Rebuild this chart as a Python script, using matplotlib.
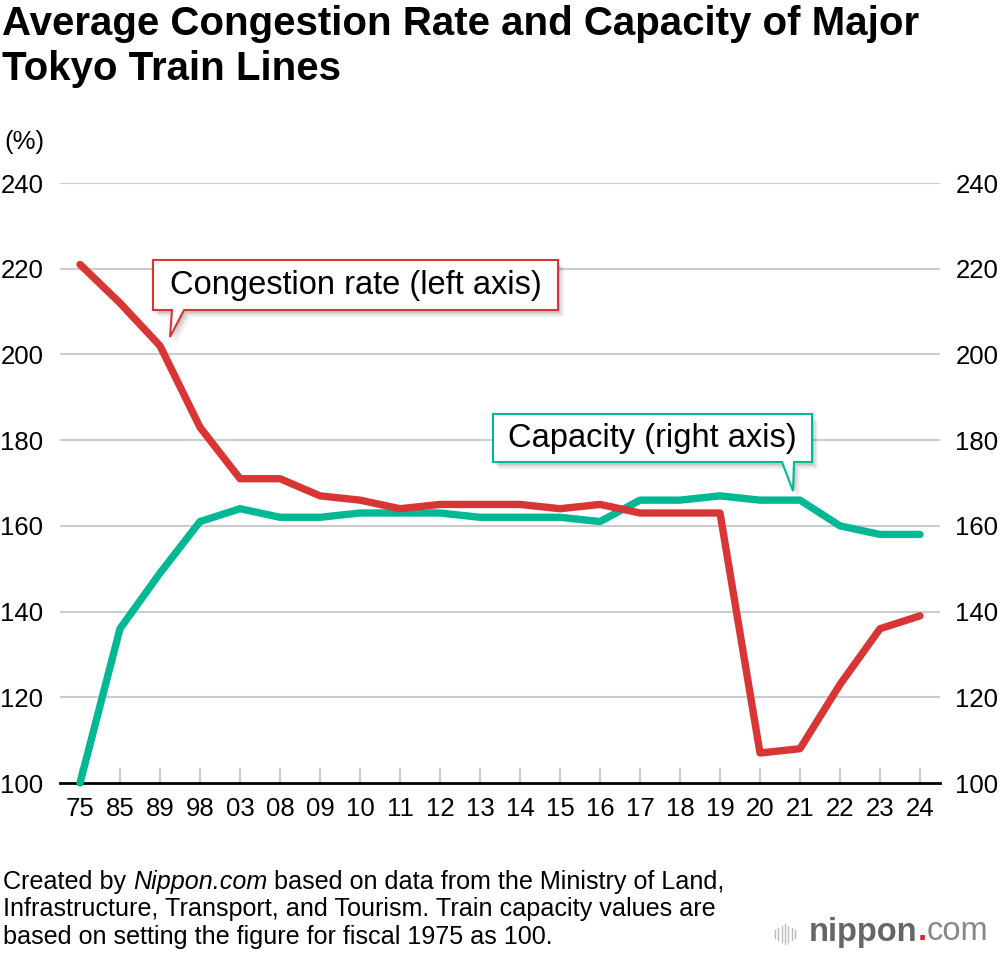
import numpy as np
import matplotlib.pyplot as plt
from matplotlib.patches import Polygon

plt.rcParams['font.family'] = ['Liberation Sans', 'DejaVu Sans']

# -----------------------------
# Data (fiscal years)
# -----------------------------
years = ["75", "85", "89", "98", "03", "08", "09", "10", "11", "12", "13",
         "14", "15", "16", "17", "18", "19", "20", "21", "22", "23", "24"]
congestion = [221, 212, 202, 183, 171, 171, 167, 166, 164, 165, 165,
              165, 164, 165, 163, 163, 163, 107, 108, 123, 136, 139]
capacity = [100, 136, 149, 161, 164, 162, 162, 163, 163, 163, 162,
            162, 162, 161, 166, 166, 167, 166, 166, 160, 158, 158]
y_ticks = [100, 120, 140, 160, 180, 200, 220, 240]

RED = "#d93535"
GREEN = "#00b894"
W, H = 1000, 956


def fx(px):
    return px / W


def fy(py):
    return 1 - py / H


fig = plt.figure(figsize=(10, 9.56), dpi=100)
ax = fig.add_axes([fx(60), fy(783), fx(880), (783 - 183) / H])
ax2 = ax.twinx()

x = np.arange(len(years))

# Grid lines
for v in y_ticks[1:]:
    ax.axhline(v, color="#cccccc", lw=1.5, zorder=0)

ax.plot(x, capacity, color=GREEN, lw=5.3, solid_capstyle="round",
        solid_joinstyle="round", clip_on=False, zorder=3)
ax.plot(x, congestion, color=RED, lw=5.3, solid_capstyle="round",
        solid_joinstyle="round", clip_on=False, zorder=4)

for a in (ax, ax2):
    a.set_ylim(100, 240)
    a.set_xlim(-0.5, len(years) - 0.5)
    for s in a.spines.values():
        s.set_visible(False)
    a.set_yticks(y_ticks)
    a.tick_params(axis="y", length=0, labelsize=18.5)

ax.spines["bottom"].set_visible(True)
ax.spines["bottom"].set_linewidth(2)
ax.spines["bottom"].set_color("black")
ax.set_xticks(x)
ax.set_xticklabels(years)
ax.tick_params(axis="x", direction="in", length=11, width=1.5,
               color="#cccccc", labelsize=18.5, pad=10)
ax.set_yticklabels([str(v) for v in y_ticks])
ax2.set_yticklabels([str(v) for v in y_ticks])
ax.tick_params(axis="y", pad=12)
ax2.tick_params(axis="y", pad=11)

# Title
fig.text(fx(2), fy(5), "Average Congestion Rate and Capacity of Major\nTokyo Train Lines",
         fontsize=29, fontweight="bold", va="top", ha="left", linespacing=1.22)
fig.text(fx(4), fy(142), "(%)", fontsize=18.5, va="center", ha="left")


# Callouts
def callout(box, tail, text, color):
    x0, y0, x1, y1 = box
    bl, br, tip = tail
    pts = [(x0, y0), (x1, y0), (x1, y1), (br, y1), tip, (bl, y1), (x0, y1)]
    for i, off in enumerate([7, 5, 3]):
        sh = [(fx(p[0] + off - 1), fy(p[1] + off)) for p in pts]
        fig.patches.append(Polygon(sh, closed=True, transform=fig.transFigure,
                                   facecolor="black", edgecolor="none",
                                   alpha=0.06 + 0.02 * i, zorder=5))
    poly = [(fx(p[0]), fy(p[1])) for p in pts]
    fig.patches.append(Polygon(poly, closed=True, transform=fig.transFigure,
                               facecolor="white", edgecolor=color, lw=1.5, zorder=6))
    fig.text(fx((x0 + x1) / 2), fy((y0 + y1) / 2 + 1), text, fontsize=23.5,
             ha="center", va="center", zorder=7)


callout((153, 260, 558, 310), (172, 184, (170, 337)), "Congestion rate (left axis)", RED)
callout((493, 414, 812, 462), (782, 794, (793, 491)), "Capacity (right axis)", GREEN)

renderer = fig.canvas.get_renderer()


def chain(x0, y, parts, **kw):
    # place text pieces one after another on a line
    for s, opts in parts:
        t = fig.text(fx(x0), fy(y), s, va="center", ha="left", **kw, **opts)
        x0 += t.get_window_extent(renderer).width
    return x0


# Footer
fs = 18.1
chain(3, 882, [("Created by ", {}), ("Nippon.com", {"style": "italic"}),
               (" based on data from the Ministry of Land,", {})], fontsize=fs)
fig.text(fx(3), fy(909), "Infrastructure, Transport, and Tourism. Train capacity values are",
         fontsize=fs, va="center", ha="left")
fig.text(fx(3), fy(937), "based on setting the figure for fiscal 1975 as 100.",
         fontsize=fs, va="center", ha="left")

# Logo
for i, h in enumerate([8, 12, 16, 20, 16, 12, 8]):
    xx = 775 + i * 3.3
    fig.add_artist(plt.Line2D([fx(xx), fx(xx)], [fy(934 + h / 2), fy(934 - h / 2)],
                              color="#bbbbbb", lw=1))
chain(809, 932, [("nippon", {"fontweight": "bold", "color": "#666666"}),
                 (".", {"fontweight": "bold", "color": "#e8202a"}),
                 ("com", {"color": "#888888"})], fontsize=23.5)

fig.savefig("out.png", dpi=100)
